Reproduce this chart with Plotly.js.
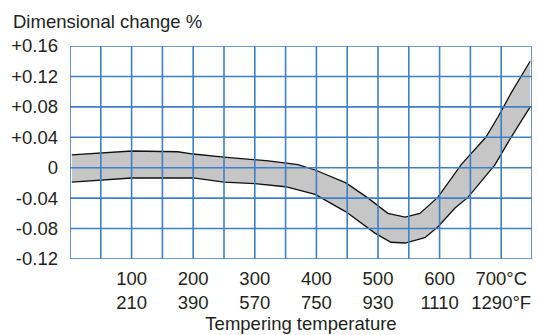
<!DOCTYPE html>
<html>
<head>
<meta charset="utf-8">
<script src="https://cdn.plot.ly/plotly-3.0.1.min.js"></script>
<style>html,body{margin:0;padding:0;background:#fff;}#chart{width:538px;height:335px;}</style>
</head>
<body>
<div id="chart"></div>
<script>
// Tempering temperature (°C) vs dimensional change (%) – band limits
var upperX = [3, 50, 100, 175, 200, 250, 300, 322, 370, 398, 448, 484, 516, 544, 568, 597, 635, 675, 695, 716, 747];
var upperY = [0.017, 0.019, 0.022, 0.021, 0.018, 0.014, 0.011, 0.009, 0.004, -0.003, -0.020, -0.040, -0.060, -0.065, -0.060, -0.039, 0.004, 0.040, 0.067, 0.098, 0.140];
var lowerX = [3, 50, 100, 200, 250, 300, 321, 350, 398, 448, 495, 521, 544, 576, 597, 625, 646, 667, 690, 716, 747];
var lowerY = [-0.019, -0.016, -0.0135, -0.0135, -0.019, -0.021, -0.023, -0.025, -0.035, -0.058, -0.086, -0.098, -0.099, -0.092, -0.078, -0.053, -0.039, -0.019, 0.004, 0.040, 0.080];

var tempC = [100, 200, 300, 400, 500, 600, 700];
var tempF = [210, 390, 570, 750, 930, 1110, 1290];
var yTicks = [-0.12, -0.08, -0.04, 0, 0.04, 0.08, 0.12, 0.16];
var yTickLabels = ["-0.12", "-0.08", "-0.04", "0", "+0.04", "+0.08", "+0.12", "+0.16"];
var xGrid = [0, 50, 100, 150, 200, 250, 300, 350, 400, 450, 500, 550, 600, 650, 700, 750];

var xTickText = tempC.map(function (c, i) {
  var last = i === tempC.length - 1;
  return c + (last ? "°C" : "") + "<br>" + tempF[i] + (last ? "°F" : "");
});

var gridColor = "#3f7fc6";
var textColor = "#231f20";
var font = {family: "Liberation Sans, Arial, Helvetica, sans-serif", size: 18.5, color: textColor};

var shapes = [];
xGrid.forEach(function (x) {
  shapes.push({type: "line", xref: "x", yref: "y", x0: x, x1: x, y0: yTicks[0], y1: yTicks[yTicks.length - 1],
    line: {color: gridColor, width: 1.6}, layer: "above"});
});
yTicks.forEach(function (y) {
  shapes.push({type: "line", xref: "x", yref: "y", x0: xGrid[0], x1: xGrid[xGrid.length - 1], y0: y, y1: y,
    line: {color: gridColor, width: 1.6}, layer: "above"});
});

var traces = [
  {x: lowerX, y: lowerY, type: "scatter", mode: "lines", line: {color: "#111", width: 1.3}, hoverinfo: "skip"},
  {x: upperX, y: upperY, type: "scatter", mode: "lines", fill: "tonexty", fillcolor: "#c5c6c5",
    line: {color: "#111", width: 1.3}, hoverinfo: "skip"}
];

var layout = {
  width: 538, height: 335,
  margin: {l: 70, r: 6, t: 46, b: 76},
  paper_bgcolor: "#fff", plot_bgcolor: "#fff",
  showlegend: false,
  font: font,
  title: {text: "Dimensional change %", font: font, xref: "container", yref: "container",
    x: 13 / 538, xanchor: "left", y: 1 - 15 / 335, yanchor: "top"},
  xaxis: {range: [0, 750], tickvals: tempC, ticktext: xTickText, showgrid: false, zeroline: false,
    showline: false, ticks: "", tickfont: font, ticklabelstandoff: 6,
    title: {text: "Tempering temperature", font: font, standoff: 4}},
  yaxis: {range: [-0.12, 0.16], tickvals: yTicks, ticktext: yTickLabels, showgrid: false, zeroline: false,
    showline: false, ticks: "", tickfont: font, ticklabelstandoff: 11},
  shapes: shapes
};

Plotly.newPlot("chart", traces, layout, {staticPlot: true, displayModeBar: false});
</script>
</body>
</html>
